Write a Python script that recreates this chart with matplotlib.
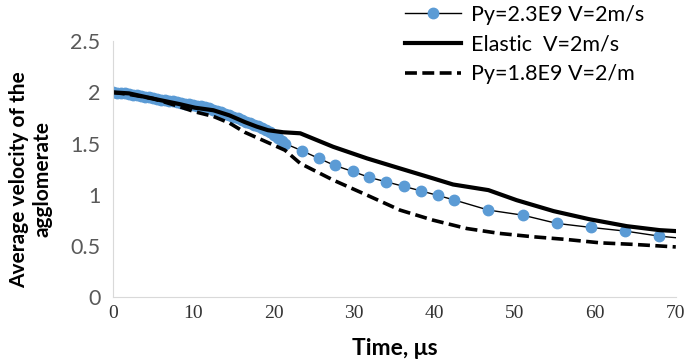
import matplotlib
matplotlib.use("Agg")
import matplotlib.pyplot as plt

plt.rcParams['font.family'] = ['Lato', 'DejaVu Sans']

# Py=2.3E9 V=2m/s (markers, dense at the start)
t_py23 = [0, 0.5, 1, 1.5, 2, 2.5, 3, 3.5, 4, 4.5, 5, 5.5, 6, 6.5, 7, 7.5, 8, 8.5, 9, 9.5,
          10, 10.5, 11, 11.5, 12, 12.5, 13, 13.5, 14, 14.5, 15, 15.5, 16, 16.5, 17, 17.5,
          18, 18.5, 19, 19.5, 20, 20.5, 21, 21.4,
          23.5, 25.6, 27.6, 29.8, 31.9, 34.0, 36.2, 38.3, 40.4, 42.4,
          46.7, 51.0, 55.2, 59.5, 63.7, 67.9, 70]
v_py23 = [2.0, 1.998, 1.995, 1.99, 1.985, 1.978, 1.97, 1.963, 1.956, 1.95, 1.943, 1.937,
          1.93, 1.924, 1.918, 1.911, 1.905, 1.898, 1.891, 1.884, 1.877, 1.87, 1.862, 1.853,
          1.843, 1.832, 1.82, 1.806, 1.79, 1.775, 1.76, 1.745, 1.73, 1.715, 1.70, 1.685,
          1.67, 1.655, 1.635, 1.61, 1.58, 1.55, 1.52, 1.50,
          1.43, 1.355, 1.286, 1.228, 1.169, 1.126, 1.081, 1.038, 0.993, 0.95,
          0.85, 0.80, 0.72, 0.68, 0.645, 0.596, 0.58]

# Elastic V=2m/s
t_el = [0, 2, 5.2, 8.3, 10.2, 12.5, 14.5, 16.4, 17.9, 19.3, 21.2, 23.3, 27.4, 31.6, 35.7,
        39.8, 42.3, 46.7, 50.2, 54.8, 59.3, 63.9, 68.0, 70]
v_el = [2.0, 1.99, 1.935, 1.885, 1.85, 1.825, 1.775, 1.71, 1.665, 1.63, 1.61, 1.60, 1.468,
        1.355, 1.257, 1.16, 1.10, 1.045, 0.947, 0.84, 0.76, 0.693, 0.654, 0.645]

# Py=1.8E9 V=2/m
t_py18 = [0, 2, 5, 8.3, 10.2, 12.5, 14.5, 16.4, 18.7, 21.4, 23.3, 27.4, 31.6, 35.7, 39.8,
          44.0, 48.1, 52.3, 56.4, 60.6, 64.7, 70]
v_py18 = [2.0, 1.98, 1.94, 1.86, 1.81, 1.765, 1.70, 1.61, 1.53, 1.435, 1.306, 1.143,
          0.996, 0.85, 0.752, 0.67, 0.622, 0.589, 0.563, 0.53, 0.515, 0.49]

fig = plt.figure(figsize=(6.84, 3.61), dpi=100)
ax = fig.add_axes([0.165, 0.177, 0.823, 0.709])

ax.plot(t_py23, v_py23, color='black', lw=1.0, marker='o', ms=7.5,
        markerfacecolor='#5b9bd5', markeredgecolor='#5b9bd5',
        markevery=list(range(len(t_py23) - 1)), label='Py=2.3E9 V=2m/s', zorder=1)
ax.plot(t_el, v_el, color='black', lw=3.0, label='Elastic  V=2m/s', zorder=2)
ax.plot(t_py18, v_py18, color='black', lw=2.6, ls=(0, (3.3, 1.5)),
        label='Py=1.8E9 V=2/m', zorder=2)

ax.set_xlim(0, 70)
ax.set_ylim(0, 2.5)
ax.set_xticks([0, 10, 20, 30, 40, 50, 60, 70])
ax.set_yticks([0, 0.5, 1, 1.5, 2, 2.5])
ax.set_yticklabels(['0', '0.5', '1', '1.5', '2', '2.5'])
ax.tick_params(length=0)
ax.tick_params(axis='y', labelsize=15.5, labelcolor='#595959', pad=9)
ax.tick_params(axis='x', labelsize=14, labelcolor='#333333', pad=6)
for lbl in ax.get_xticklabels():
    lbl.set_family(['Liberation Serif', 'DejaVu Serif'])

for s in ['top', 'right']:
    ax.spines[s].set_visible(False)
ax.spines['left'].set_color('#d9d9d9')
ax.spines['bottom'].set_color('#d9d9d9')

ax.set_xlabel('Time, μs', fontsize=16.5, fontweight='bold', labelpad=11)
ax.set_ylabel('Average velocity of the\nagglomerate', fontsize=15,
              fontweight='bold', linespacing=1.25)
ax.yaxis.set_label_coords(-0.107, 0.46)

leg = fig.legend(loc='upper left', bbox_to_anchor=(405 / 684, 1 - 5 / 361),
                 frameon=False, fontsize=15.5, handlelength=2.6, labelspacing=0.45,
                 handletextpad=0.45, borderpad=0, borderaxespad=0)

fig.savefig('out.png', dpi=100)
